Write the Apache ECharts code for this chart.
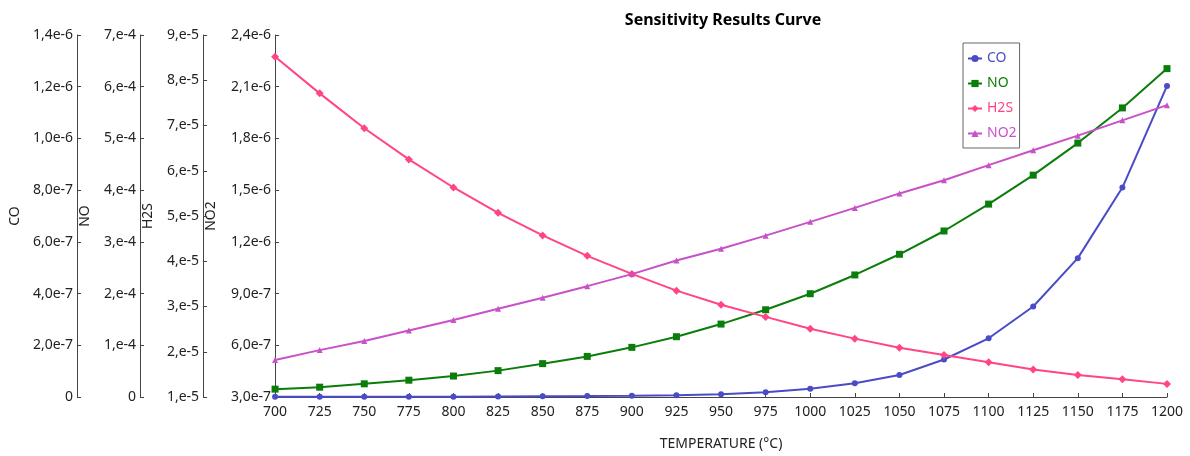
<!DOCTYPE html>
<html>
<head>
<meta charset="utf-8">
<script src="https://cdn.jsdelivr.net/npm/echarts@6/dist/echarts.min.js"></script>
<style>
html,body{margin:0;padding:0;background:#fff;}
#chart{width:1190px;height:456px;}
</style>
</head>
<body>
<div id="chart"></div>
<script>
var temperatures = [700,725,750,775,800,825,850,875,900,925,950,975,1000,1025,1050,1075,1100,1125,1150,1175,1200];
var coValues = [0.5e-9,0.6e-9,0.8e-9,1.0e-9,1.3e-9,1.8e-9,2.5e-9,3.5e-9,4.8e-9,7e-9,11e-9,18e-9,32e-9,53e-9,85e-9,145e-9,227e-9,350e-9,537e-9,810e-9,1203e-9];
var noValues = [1.52e-5,1.9e-5,2.55e-5,3.25e-5,4.05e-5,5.1e-5,6.45e-5,7.85e-5,9.6e-5,1.166e-4,1.41e-4,1.687e-4,1.997e-4,2.36e-4,2.76e-4,3.21e-4,3.73e-4,4.29e-4,4.91e-4,5.59e-4,6.35e-4];
var h2sValues = [8.52e-5,7.71e-5,6.94e-5,6.25e-5,5.63e-5,5.07e-5,4.57e-5,4.12e-5,3.72e-5,3.35e-5,3.04e-5,2.77e-5,2.51e-5,2.29e-5,2.09e-5,1.93e-5,1.77e-5,1.61e-5,1.485e-5,1.39e-5,1.29e-5];
var no2Values = [5.15e-7,5.72e-7,6.25e-7,6.86e-7,7.47e-7,8.12e-7,8.76e-7,9.43e-7,10.13e-7,10.92e-7,11.60e-7,12.36e-7,13.16e-7,13.97e-7,14.81e-7,15.57e-7,16.45e-7,17.31e-7,18.16e-7,19.05e-7,19.93e-7];

var coTicks = ['0','2,0e-7','4,0e-7','6,0e-7','8,0e-7','1,0e-6','1,2e-6','1,4e-6'];
var noTicks = ['0','1,e-4','2,e-4','3,e-4','4,e-4','5,e-4','6,e-4','7,e-4'];
var h2sTicks = ['1,e-5','2,e-5','3,e-5','4,e-5','5,e-5','6,e-5','7,e-5','8,e-5','9,e-5'];
var no2Ticks = ['3,0e-7','6,0e-7','9,0e-7','1,2e-6','1,5e-6','1,8e-6','2,1e-6','2,4e-6'];

var FONT = 'Noto Sans';
var TXT = '#222';
var AX = '#444';

function yAxis(name, min, max, interval, offset, nameGap, ticks) {
  return {
    type: 'value', position: 'left', offset: offset,
    min: min, max: max, interval: interval,
    name: name, nameLocation: 'middle', nameGap: nameGap,
    nameTextStyle: {color: TXT, fontFamily: FONT, fontSize: 14},
    axisLine: {show: true, lineStyle: {color: AX, width: 1}},
    axisTick: {show: true, inside: true, length: 4, lineStyle: {color: AX}},
    axisLabel: {color: TXT, fontFamily: FONT, fontSize: 14, margin: 4,
      formatter: function (v, i) { return ticks[i] !== undefined ? ticks[i] : ''; }},
    splitLine: {show: false}
  };
}

var chart = echarts.init(document.getElementById('chart'), null, {renderer: 'canvas'});
chart.setOption({
  animation: false,
  backgroundColor: '#fff',
  title: {
    text: 'Sensitivity Results Curve', left: 718, top: 7, textAlign: 'center',
    textStyle: {fontFamily: FONT, fontSize: 16, fontWeight: 'bold', color: '#000'}
  },
  legend: {
    orient: 'vertical', left: 963, top: 43,
    borderColor: '#666', borderWidth: 1,
    padding: [8, 3, 7, 4],
    itemWidth: 14, itemHeight: 9, itemGap: 10,
    textStyle: {fontFamily: FONT, fontSize: 14, lineHeight: 15},
    data: [
      {name: 'CO', textStyle: {color: '#4b4bc8'}},
      {name: 'NO', textStyle: {color: '#0a7d0a'}},
      {name: 'H2S', textStyle: {color: '#ff4585'}},
      {name: 'NO2', textStyle: {color: '#c850c8'}}
    ]
  },
  grid: {left: 270, width: 897, top: 35, height: 368, containLabel: false},
  xAxis: {
    type: 'value', min: 700, max: 1200, interval: 25,
    name: 'TEMPERATURE (°C)', nameLocation: 'middle', nameGap: 40,
    nameTextStyle: {color: TXT, fontFamily: FONT, fontSize: 14},
    axisLine: {show: true, lineStyle: {color: AX}},
    axisTick: {show: true, inside: true, length: 4, lineStyle: {color: AX}},
    axisLabel: {color: TXT, fontFamily: FONT, fontSize: 14, margin: 8,
      formatter: function (v) { return String(v); }},
    splitLine: {show: false}
  },
  yAxis: [
    yAxis('CO', 0, 1.4e-6, 2e-7, 198, 55, coTicks),
    yAxis('NO', 0, 7e-4, 1e-4, 135, 48, noTicks),
    yAxis('H2S', 1e-5, 9e-5, 1e-5, 72, 48, h2sTicks),
    yAxis('NO2', 3e-7, 2.4e-6, 3e-7, 0, 57, no2Ticks)
  ],
  series: [
    {name: 'CO', type: 'line', yAxisIndex: 0, data: temperatures.map(function (t, i) { return [t, coValues[i]]; }),
      symbol: 'circle', symbolSize: 6, color: '#4b4bc8', lineStyle: {width: 2}},
    {name: 'NO', type: 'line', yAxisIndex: 1, data: temperatures.map(function (t, i) { return [t, noValues[i]]; }),
      symbol: 'rect', symbolSize: 7, color: '#0a7d0a', lineStyle: {width: 2}},
    {name: 'H2S', type: 'line', yAxisIndex: 2, data: temperatures.map(function (t, i) { return [t, h2sValues[i]]; }),
      symbol: 'diamond', symbolSize: 8, color: '#ff4585', lineStyle: {width: 2}},
    {name: 'NO2', type: 'line', yAxisIndex: 3, data: temperatures.map(function (t, i) { return [t, no2Values[i]]; }),
      symbol: 'triangle', symbolSize: 6, color: '#c850c8', lineStyle: {width: 2}}
  ]
});
</script>
</body>
</html>
